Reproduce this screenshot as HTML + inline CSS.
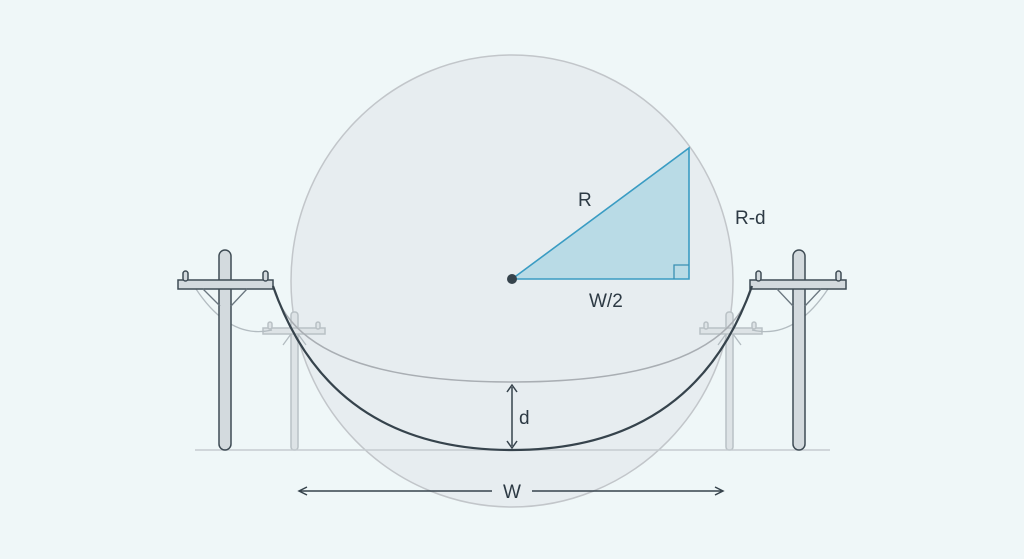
<!DOCTYPE html>
<html><head><style>
html,body{margin:0;padding:0;background:#eef6f7;}
svg{display:block;}
text{font-family:"Liberation Sans",sans-serif;fill:#2d3a44;}
</style></head><body>
<svg width="1024" height="559" viewBox="0 0 1024 559">
<rect width="1024" height="559" fill="#eff7f8"/>
<ellipse cx="512" cy="281" rx="221" ry="226" fill="#e4e8ed" fill-opacity="0.7" stroke="#c2c6ca" stroke-width="1.5"/>
<!-- back poles -->
<g fill="#dde3e6" stroke="#b9c1c5" stroke-width="1.5">
<rect x="291" y="312" width="7" height="138" rx="3"/>
<rect x="263" y="328" width="62" height="6"/>
<rect x="268" y="322" width="4" height="7" rx="2"/>
<rect x="316" y="322" width="4" height="7" rx="2"/>
<rect x="726" y="312" width="7" height="138" rx="3"/>
<rect x="700" y="328" width="62" height="6"/>
<rect x="704" y="322" width="4" height="7" rx="2"/>
<rect x="752" y="322" width="4" height="7" rx="2"/>
</g>
<g fill="none" stroke="#b3bcc1" stroke-width="1.3">
<path d="M196 289 Q230 340 272 330"/>
<path d="M828 289 Q794 340 752 330"/>
<path d="M298 334 L306 345 M291 334 L283 345"/>
<path d="M733 334 L741 345 M726 334 L718 345"/>
</g>
<!-- inner ellipse arc -->
<path d="M273 287 Q300 382 512 382 Q724 382 752 287" fill="none" stroke="#a9aeb3" stroke-width="1.5"/>
<!-- ground -->
<line x1="195" y1="450" x2="830" y2="450" stroke="#c5ccd0" stroke-width="1.5"/>
<!-- front poles -->
<g fill="#d3dade" stroke="#3f4c55" stroke-width="1.5">
<rect x="219" y="250" width="12" height="200" rx="6"/>
<rect x="178" y="280" width="95" height="9"/>
<rect x="183" y="271" width="5" height="10" rx="2.5"/>
<rect x="263" y="271" width="5" height="10" rx="2.5"/>
<rect x="793" y="250" width="12" height="200" rx="6"/>
<rect x="750" y="280" width="96" height="9"/>
<rect x="756" y="271" width="5" height="10" rx="2.5"/>
<rect x="836" y="271" width="5" height="10" rx="2.5"/>
</g>
<g stroke="#6b7780" stroke-width="1.3">
<path d="M203 289 L220 306 M247 289 L231 306"/>
<path d="M777 289 L793 306 M821 289 L805 306"/>
</g>
<!-- cable -->
<path d="M273 286 Q330 450 512 450 Q694 450 752 286" fill="none" stroke="#36434c" stroke-width="2.2"/>
<!-- triangle -->
<polygon points="512,279 689,148 689,279" fill="#a9d4e3" fill-opacity="0.75" stroke="#3a9cc3" stroke-width="1.6"/>
<path d="M674 279 L674 265 L689 265" fill="none" stroke="#3a8fb3" stroke-width="1.3"/>
<circle cx="512" cy="279" r="5" fill="#36434c"/>
<text x="578" y="206" font-size="19">R</text>
<text x="735" y="224" font-size="19">R-d</text>
<text x="589" y="307" font-size="19">W/2</text>
<!-- d arrow -->
<g stroke="#36434c" stroke-width="1.5" fill="none">
<line x1="512" y1="387" x2="512" y2="446"/>
<path d="M507 392 L512 385 L517 392"/>
<path d="M507 441 L512 448 L517 441"/>
<line x1="300" y1="491" x2="492" y2="491"/>
<line x1="532" y1="491" x2="722" y2="491"/>
<path d="M307 487 L299 491 L307 495"/>
<path d="M715 487 L723 491 L715 495"/>
</g>
<text x="519" y="424" font-size="19">d</text>
<text x="512" y="498" font-size="19" text-anchor="middle">W</text>
</svg>
</body></html>
